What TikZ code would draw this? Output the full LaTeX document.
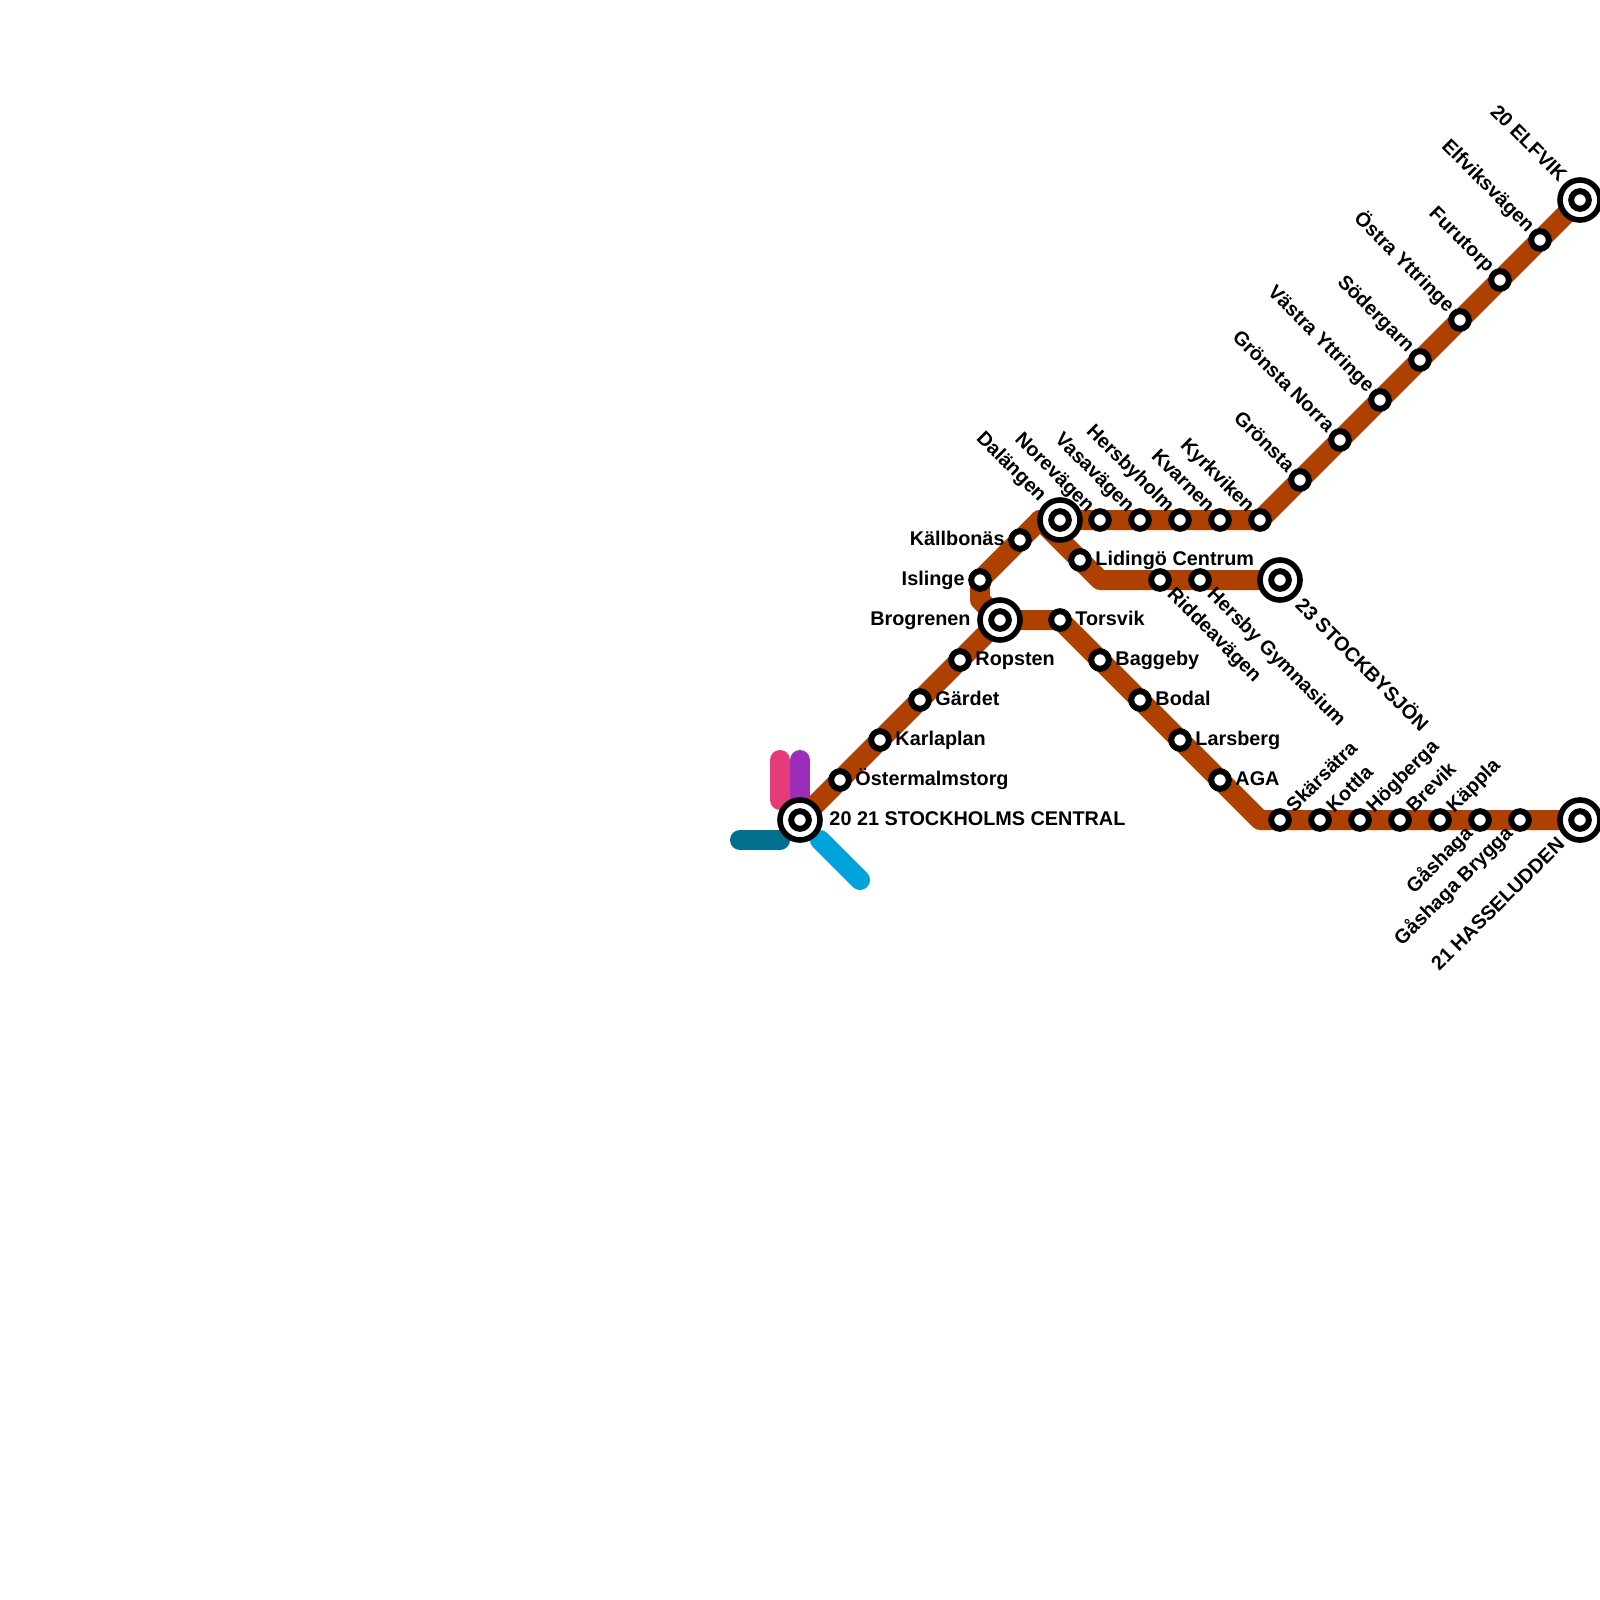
\documentclass[tikz,border=0pt]{standalone}
\usepackage{fontspec}
\setmainfont{Liberation Sans}
\usetikzlibrary{backgrounds}

\definecolor{linebrown}{HTML}{AE4000}
\definecolor{linepink}{HTML}{E63B7A}
\definecolor{linepurple}{HTML}{9B2DB8}
\definecolor{lineteal}{HTML}{00708F}
\definecolor{linecyan}{HTML}{00A3DA}

\tikzset{
  stop/.style={circle,draw=black,fill=white,line width=0.15cm,minimum size=0.44cm,inner sep=0pt,outer sep=0pt},
  bigstop/.style={circle,draw=black,fill=white,line width=0.14cm,minimum size=1cm,inner sep=0pt,outer sep=0pt},
  tag/.style={font=\fontsize{14.1pt}{15pt}\selectfont\bfseries,inner sep=0pt,text height=10.5pt,text depth=2.5pt},
  tagr/.style={tag,label position=0,anchor=west},
  tagl/.style={tag,label position=180,anchor=east},
  tagnw/.style={tag,label position=135,anchor=east,xshift=-0.075cm,yshift=-0.05cm,rotate=-45},
  tagne/.style={tag,label position=45,anchor=west,xshift=0.1cm,yshift=-0.05cm,rotate=45},
  tagse/.style={tag,label position=-45,anchor=west,xshift=0.1cm,yshift=0.025cm,rotate=-45},
  tagsw/.style={tag,label position=225,anchor=east,xshift=-0.1cm,yshift=0.05cm,rotate=45},
  bigtag/.style={label distance=0.23cm},
  track/.style={line width=0.5cm,line cap=round,line join=round},
}

\begin{document}
\begin{tikzpicture}[x=1cm,y=-1cm,label distance=0.16cm]
  \useasboundingbox (0,0) rectangle (40,40);
  % terminals and interchanges
  \node[bigstop,label={[tagr,bigtag]20 21 STOCKHOLMS CENTRAL}] (central) at (20,20.5) {};
  \node[stop] (centralin) at (central) {};
  \node[bigstop,label={[tagl,bigtag]Brogrenen}] (brogrenen) at (25,15.5) {};
  \node[stop] (brogrenenin) at (brogrenen) {};
  \node[bigstop,label={[tagnw,bigtag]Dalängen}] (dalangen) at (26.5,13) {};
  \node[stop] (dalangenin) at (dalangen) {};
  \node[bigstop,label={[tagse,bigtag]23 STOCKBYSJÖN}] (stockby) at (32,14.5) {};
  \node[stop] (stockbyin) at (stockby) {};
  \node[bigstop,label={[tagnw,bigtag]20 ELFVIK}] (elfvik) at (39.5,5) {};
  \node[stop] (elfvikin) at (elfvik) {};
  \node[bigstop,label={[tagsw,bigtag]21 HASSELUDDEN}] (hasselud) at (39.5,20.5) {};
  \node[stop] (hasseludin) at (hasselud) {};
  % trunk
  \node[stop,label={[tagr]Östermalmstorg}] (ostermalm) at (21,19.5) {};
  \node[stop,label={[tagr]Karlaplan}] (karlaplan) at (22,18.5) {};
  \node[stop,label={[tagr]Gärdet}] (gardet) at (23,17.5) {};
  \node[stop,label={[tagr]Ropsten}] (ropsten) at (24,16.5) {};
  \node[stop,label={[tagl]Islinge}] (islinge) at (24.5,14.5) {};
  \node[stop,label={[tagl]Källbonäs}] (kallbonas) at (25.5,13.5) {};
  % elfvik branch
  \node[stop,label={[tagnw]Norevägen}] (norevagen) at (27.5,13) {};
  \node[stop,label={[tagnw]Vasavägen}] (vasavagen) at (28.5,13) {};
  \node[stop,label={[tagnw]Hersbyholm}] (hersbyholm) at (29.5,13) {};
  \node[stop,label={[tagnw]Kvarnen}] (kvarnen) at (30.5,13) {};
  \node[stop,label={[tagnw]Kyrkviken}] (kyrkviken) at (31.5,13) {};
  \node[stop,label={[tagnw]Grönsta}] (gronsta) at (32.5,12) {};
  \node[stop,label={[tagnw]Grönsta Norra}] (gronstan) at (33.5,11) {};
  \node[stop,label={[tagnw]Västra Yttringe}] (vastray) at (34.5,10) {};
  \node[stop,label={[tagnw]Södergarn}] (sodergarn) at (35.5,9) {};
  \node[stop,label={[tagnw]Östra Yttringe}] (ostray) at (36.5,8) {};
  \node[stop,label={[tagnw]Furutorp}] (furutorp) at (37.5,7) {};
  \node[stop,label={[tagnw]Elfviksvägen}] (elfviksv) at (38.5,6) {};
  % stockbysjon branch
  \node[stop,label={[tagr]Lidingö Centrum}] (lidingo) at (27,14) {};
  \node[stop,label={[tagse]Riddeavägen}] (riddea) at (29,14.5) {};
  \node[stop,label={[tagse]Hersby Gymnasium}] (hersbyg) at (30,14.5) {};
  % hasseludden branch
  \node[stop,label={[tagr]Torsvik}] (torsvik) at (26.5,15.5) {};
  \node[stop,label={[tagr]Baggeby}] (baggeby) at (27.5,16.5) {};
  \node[stop,label={[tagr]Bodal}] (bodal) at (28.5,17.5) {};
  \node[stop,label={[tagr]Larsberg}] (larsberg) at (29.5,18.5) {};
  \node[stop,label={[tagr]AGA}] (aga) at (30.5,19.5) {};
  \node[stop,label={[tagne]Skärsätra}] (skarsatra) at (32,20.5) {};
  \node[stop,label={[tagne]Kottla}] (kottla) at (33,20.5) {};
  \node[stop,label={[tagne]Högberga}] (hogberga) at (34,20.5) {};
  \node[stop,label={[tagne]Brevik}] (brevik) at (35,20.5) {};
  \node[stop,label={[tagne]Käppla}] (kappla) at (36,20.5) {};
  \node[stop,label={[tagsw]Gåshaga}] (gashaga) at (37,20.5) {};
  \node[stop,label={[tagsw]Gåshaga Brygga}] (gashagab) at (38,20.5) {};
  % bends and stub ends
  \coordinate (bendislinge) at (24.5,15);
  \coordinate (bendtop) at (26,13);
  \coordinate (bendlow) at (27.5,14.5);
  \coordinate (bendsouth) at (31.5,20.5);
  \coordinate (pinktop) at (19.5,19);
  \coordinate (pinkend) at (19.5,20);
  \coordinate (purpletop) at (20,19);
  \coordinate (purpleend) at (20,20);
  \coordinate (tealleft) at (18.5,21);
  \coordinate (tealright) at (19.5,21);
  \coordinate (cyanstart) at (20.5,21);
  \coordinate (cyanend) at (21.5,22);
  \begin{scope}[on background layer]
    \draw[track,linepink] (pinktop)--(pinkend);
    \draw[track,linepurple] (purpletop)--(purpleend);
    \draw[track,lineteal] (tealleft)--(tealright);
    \draw[track,linecyan] (cyanend)--(cyanstart);
    \draw[track,linebrown] (central.center)--(brogrenen.center)--(bendislinge)--(islinge.center)--(bendtop)--(kyrkviken.center)--(elfvik.center);
    \draw[track,linebrown] (bendtop)--(bendlow)--(stockby.center);
    \draw[track,linebrown] (brogrenen.center)--(torsvik.center)--(bendsouth)--(hasselud.center);
  \end{scope}
\end{tikzpicture}
\end{document}
